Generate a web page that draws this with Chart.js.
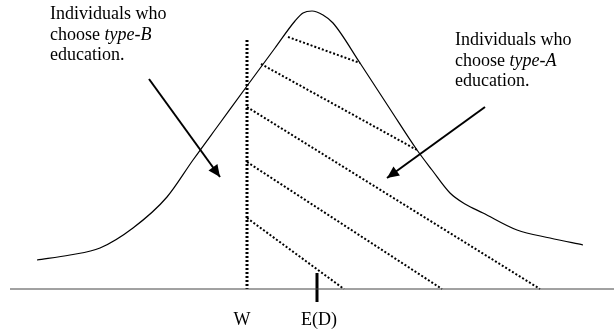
<!DOCTYPE html>
<html><head><meta charset="utf-8">
<script src="https://cdn.jsdelivr.net/npm/chart.js@4/dist/chart.umd.min.js"></script>
<style>html,body{margin:0;padding:0;background:#fff}#wrap{width:614px;height:331px;position:relative}</style>
</head><body><div id="wrap"><canvas id="c"></canvas></div>
<script>
// Density curve (x position, height above the axis)
const densityX = [37, 70, 100, 133, 167, 193, 220, 247, 275, 295, 303, 312, 323, 333, 360, 390, 417, 432, 450, 465, 483, 517, 550, 583];
const densityY = [29, 34, 41, 61, 92, 129, 166, 203, 241, 268, 276, 278, 274, 266, 226, 180, 139, 119, 96, 85, 76, 59, 51, 44];
// Hatch lines (type-A region)
const hatchStartX = [288, 261, 247, 247, 247];
const hatchStartY = [252, 225, 182, 127, 71];
const hatchEndX   = [360, 417, 540, 442, 344];
const hatchEndY   = [226, 139, 0, 0, 0];
// Threshold W (vertical dotted line)
const wLineX = [247, 247];
const wLineY = [249, 0];
// Horizontal axis
const axisX = [10, 614];
const axisY = [0, 0];
// E(D) marker
const edX = [317, 317];
const edY = [16, -13];
// Arrows
const arrowFromX = [149, 485];
const arrowFromY = [210, 182];
const arrowToX   = [220, 387];
const arrowToY   = [112, 111];
// Tick labels
const tickValues = [242, 319];
const tickLabels = ['W', 'E(D)'];
// Annotations (x, baseline height, lines of [text, style] runs)
const noteX = [50, 455];
const noteY = [270, 244];
const noteLines = [
  [[['Individuals who', 'normal']], [['choose ', 'normal'], ['type-B', 'italic']], [['education.', 'normal']]],
  [[['Individuals who', 'normal']], [['choose ', 'normal'], ['type-A', 'italic']], [['education.', 'normal']]]
];
const noteLineGap = 20.5;

const FONT = '"Liberation Serif", "Times New Roman", serif';
const pts = (xs, ys) => xs.map((x, i) => ({x: x, y: ys[i]}));

const datasets = [];
datasets.push({data: pts(densityX, densityY), borderColor: '#000', borderWidth: 1.2, cubicInterpolationMode: 'monotone'});
datasets.push({data: pts(axisX, axisY), borderColor: '#444', borderWidth: 1});
datasets.push({data: pts(wLineX, wLineY), borderColor: '#000', borderWidth: 3, borderDash: [2, 2]});
hatchStartX.forEach((x, i) => {
  datasets.push({data: [{x: x, y: hatchStartY[i]}, {x: hatchEndX[i], y: hatchEndY[i]}], borderColor: '#000', borderWidth: 2, borderDash: [2, 2]});
});
datasets.push({data: pts(edX, edY), borderColor: '#000', borderWidth: 3});
arrowFromX.forEach((x, i) => {
  datasets.push({data: [{x: x, y: arrowFromY[i]}, {x: arrowToX[i], y: arrowToY[i]}], borderColor: '#000', borderWidth: 2, arrowHead: true});
});
datasets.forEach(d => { d.showLine = true; d.pointRadius = 0; d.fill = false; });

const arrowPlugin = {
  id: 'arrows',
  afterDatasetsDraw(chart) {
    const ctx = chart.ctx;
    chart.data.datasets.forEach((ds, i) => {
      if (!ds.arrowHead) return;
      const meta = chart.getDatasetMeta(i);
      const p0 = meta.data[meta.data.length - 2], p1 = meta.data[meta.data.length - 1];
      const a = Math.atan2(p1.y - p0.y, p1.x - p0.x);
      const len = 12, half = 5.5;
      ctx.save();
      ctx.fillStyle = '#000';
      ctx.beginPath();
      ctx.moveTo(p1.x, p1.y);
      ctx.lineTo(p1.x - len * Math.cos(a) + half * Math.sin(a), p1.y - len * Math.sin(a) - half * Math.cos(a));
      ctx.lineTo(p1.x - len * Math.cos(a) - half * Math.sin(a), p1.y - len * Math.sin(a) + half * Math.cos(a));
      ctx.closePath();
      ctx.fill();
      ctx.restore();
    });
  }
};

const notePlugin = {
  id: 'notes',
  afterDatasetsDraw(chart) {
    const ctx = chart.ctx, xs = chart.scales.x, ys = chart.scales.y;
    ctx.save();
    ctx.fillStyle = '#000';
    ctx.textBaseline = 'alphabetic';
    noteLines.forEach((lines, n) => {
      const x0 = xs.getPixelForValue(noteX[n]);
      lines.forEach((runs, li) => {
        let x = x0;
        const y = ys.getPixelForValue(noteY[n]) + li * noteLineGap;
        runs.forEach(([t, st]) => {
          ctx.font = (st === 'italic' ? 'italic ' : '') + '18px ' + FONT;
          ctx.fillText(t, x, y);
          x += ctx.measureText(t).width;
        });
      });
    });
    ctx.restore();
  }
};

new Chart(document.getElementById('c'), {
  type: 'scatter',
  data: {datasets: datasets},
  options: {
    responsive: true, maintainAspectRatio: false, animation: false, events: [],
    layout: {padding: 0},
    plugins: {legend: {display: false}, tooltip: {enabled: false}},
    scales: {
      x: {
        type: 'linear', min: 0, max: 614, position: 'bottom',
        grid: {display: false, drawTicks: false}, border: {display: false},
        afterBuildTicks: axis => { axis.ticks = tickValues.map(v => ({value: v})); },
        afterFit: axis => { axis.height = 23; },
        ticks: {
          autoSkip: false, maxRotation: 0, padding: 1, color: '#000',
          font: {family: FONT, size: 18},
          callback: (v) => { const i = tickValues.indexOf(v); return i >= 0 ? tickLabels[i] : ''; }
        }
      },
      y: {type: 'linear', min: -19, max: 289, display: false}
    }
  },
  plugins: [arrowPlugin, notePlugin]
});
</script>
</body></html>
